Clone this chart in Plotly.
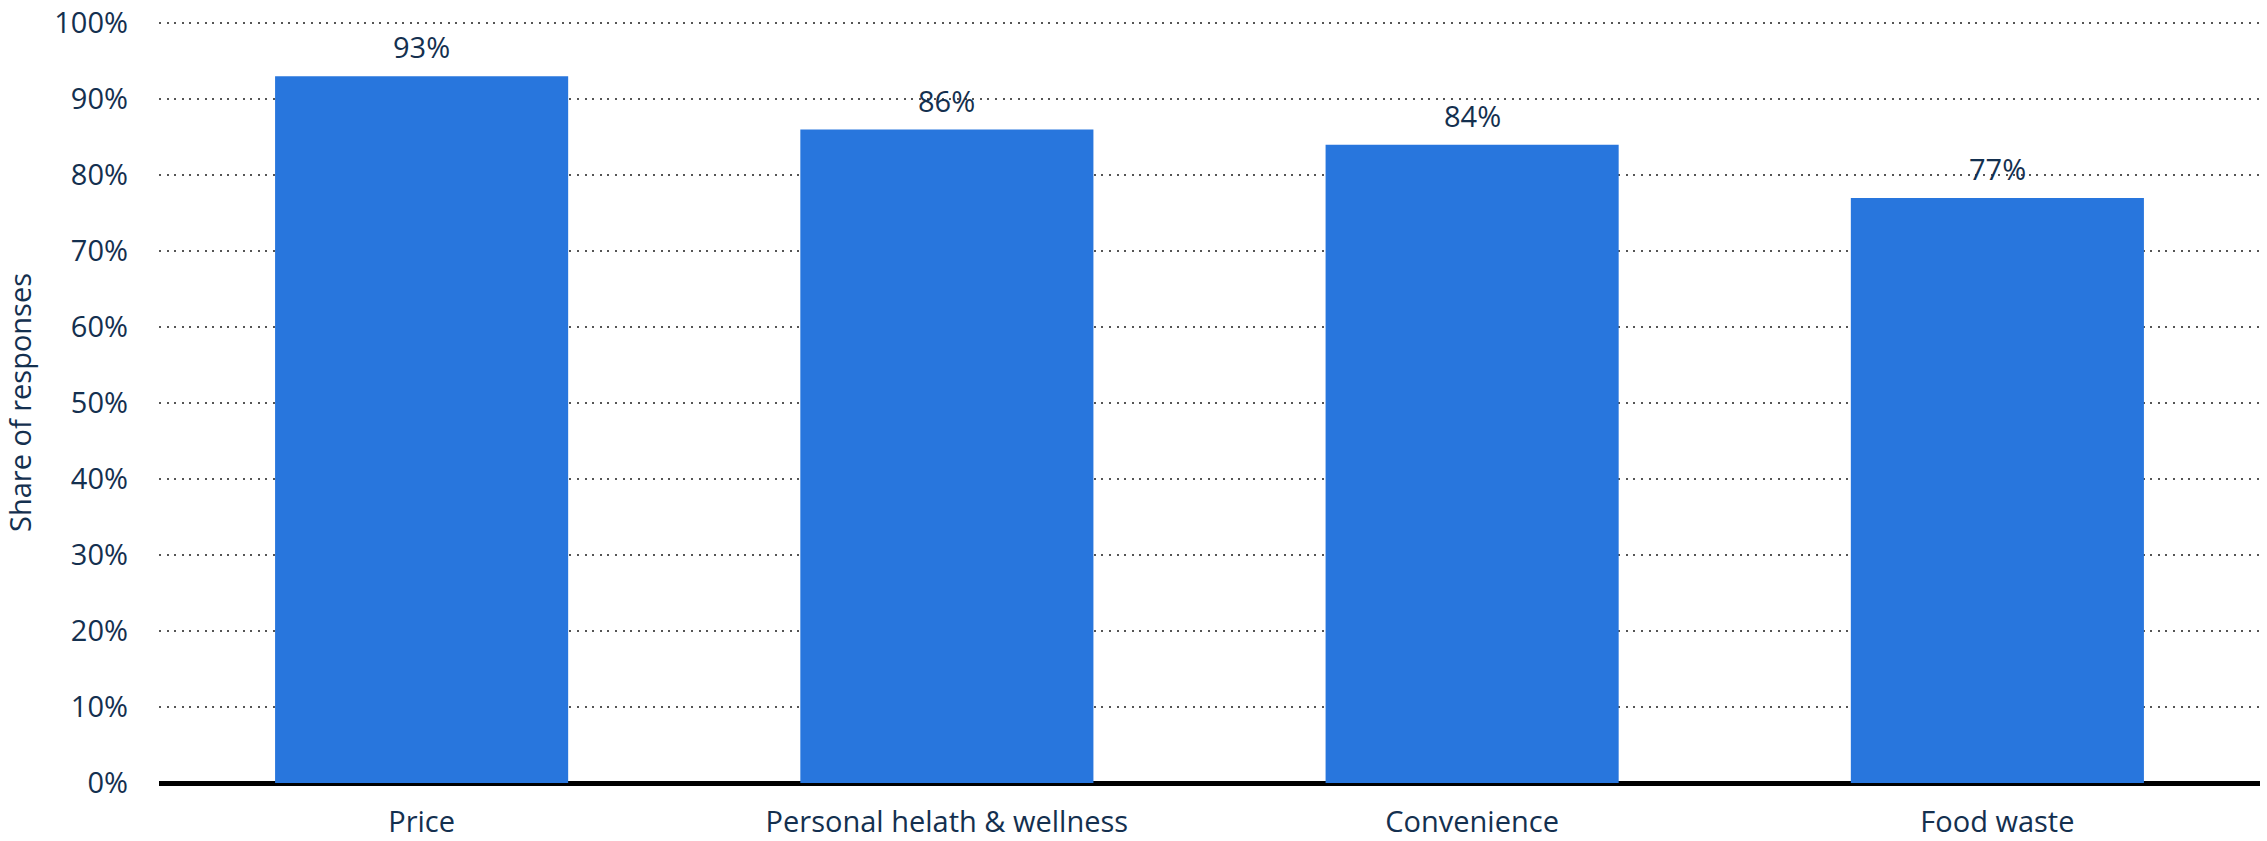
import plotly.graph_objects as go

categories = ["Price", "Personal helath & wellness", "Convenience", "Food waste"]
shares = [93, 86, 84, 77]
y_ticks = [0, 10, 20, 30, 40, 50, 60, 70, 80, 90, 100]
y_tick_labels = [f"{v}%" for v in y_ticks]

TEXT = "#14304f"
BAR = "#2876dd"
FONT = "Open Sans"
SIZE = 29

fig = go.Figure()
fig.add_trace(go.Bar(
    x=categories,
    y=shares,
    marker=dict(color=BAR, line=dict(width=0)),
    hoverinfo="skip",
))

# value labels above each bar
for c, v in zip(categories, shares):
    fig.add_annotation(
        x=c, y=v, text=f"{v}%", showarrow=False,
        yanchor="bottom", yshift=8,
        font=dict(family=FONT, size=SIZE, color=TEXT),
    )

fig.update_layout(
    width=2267, height=841,
    margin=dict(l=159, r=7, t=22, b=58),
    paper_bgcolor="white", plot_bgcolor="white",
    bargap=0.442,
    showlegend=False,
    font=dict(family=FONT, size=SIZE, color=TEXT),
)
fig.update_xaxes(
    showgrid=False, zeroline=False,
    showline=False, automargin=False,
    ticks="", ticklabelstandoff=19,
    tickfont=dict(family=FONT, size=SIZE, color=TEXT),
)
fig.update_yaxes(
    range=[0, 100.15],
    tickvals=y_ticks, ticktext=y_tick_labels,
    showgrid=True, gridcolor="#555555", griddash="2px,5.6px", gridwidth=2,
    zeroline=True, zerolinecolor="black", zerolinewidth=5,
    showline=False, ticks="", ticklabelstandoff=30, automargin=False,
    tickfont=dict(family=FONT, size=SIZE, color=TEXT),
    title=dict(text="Share of responses", standoff=14,
               font=dict(family=FONT, size=SIZE, color=TEXT)),
)

fig.write_html("out.html")
